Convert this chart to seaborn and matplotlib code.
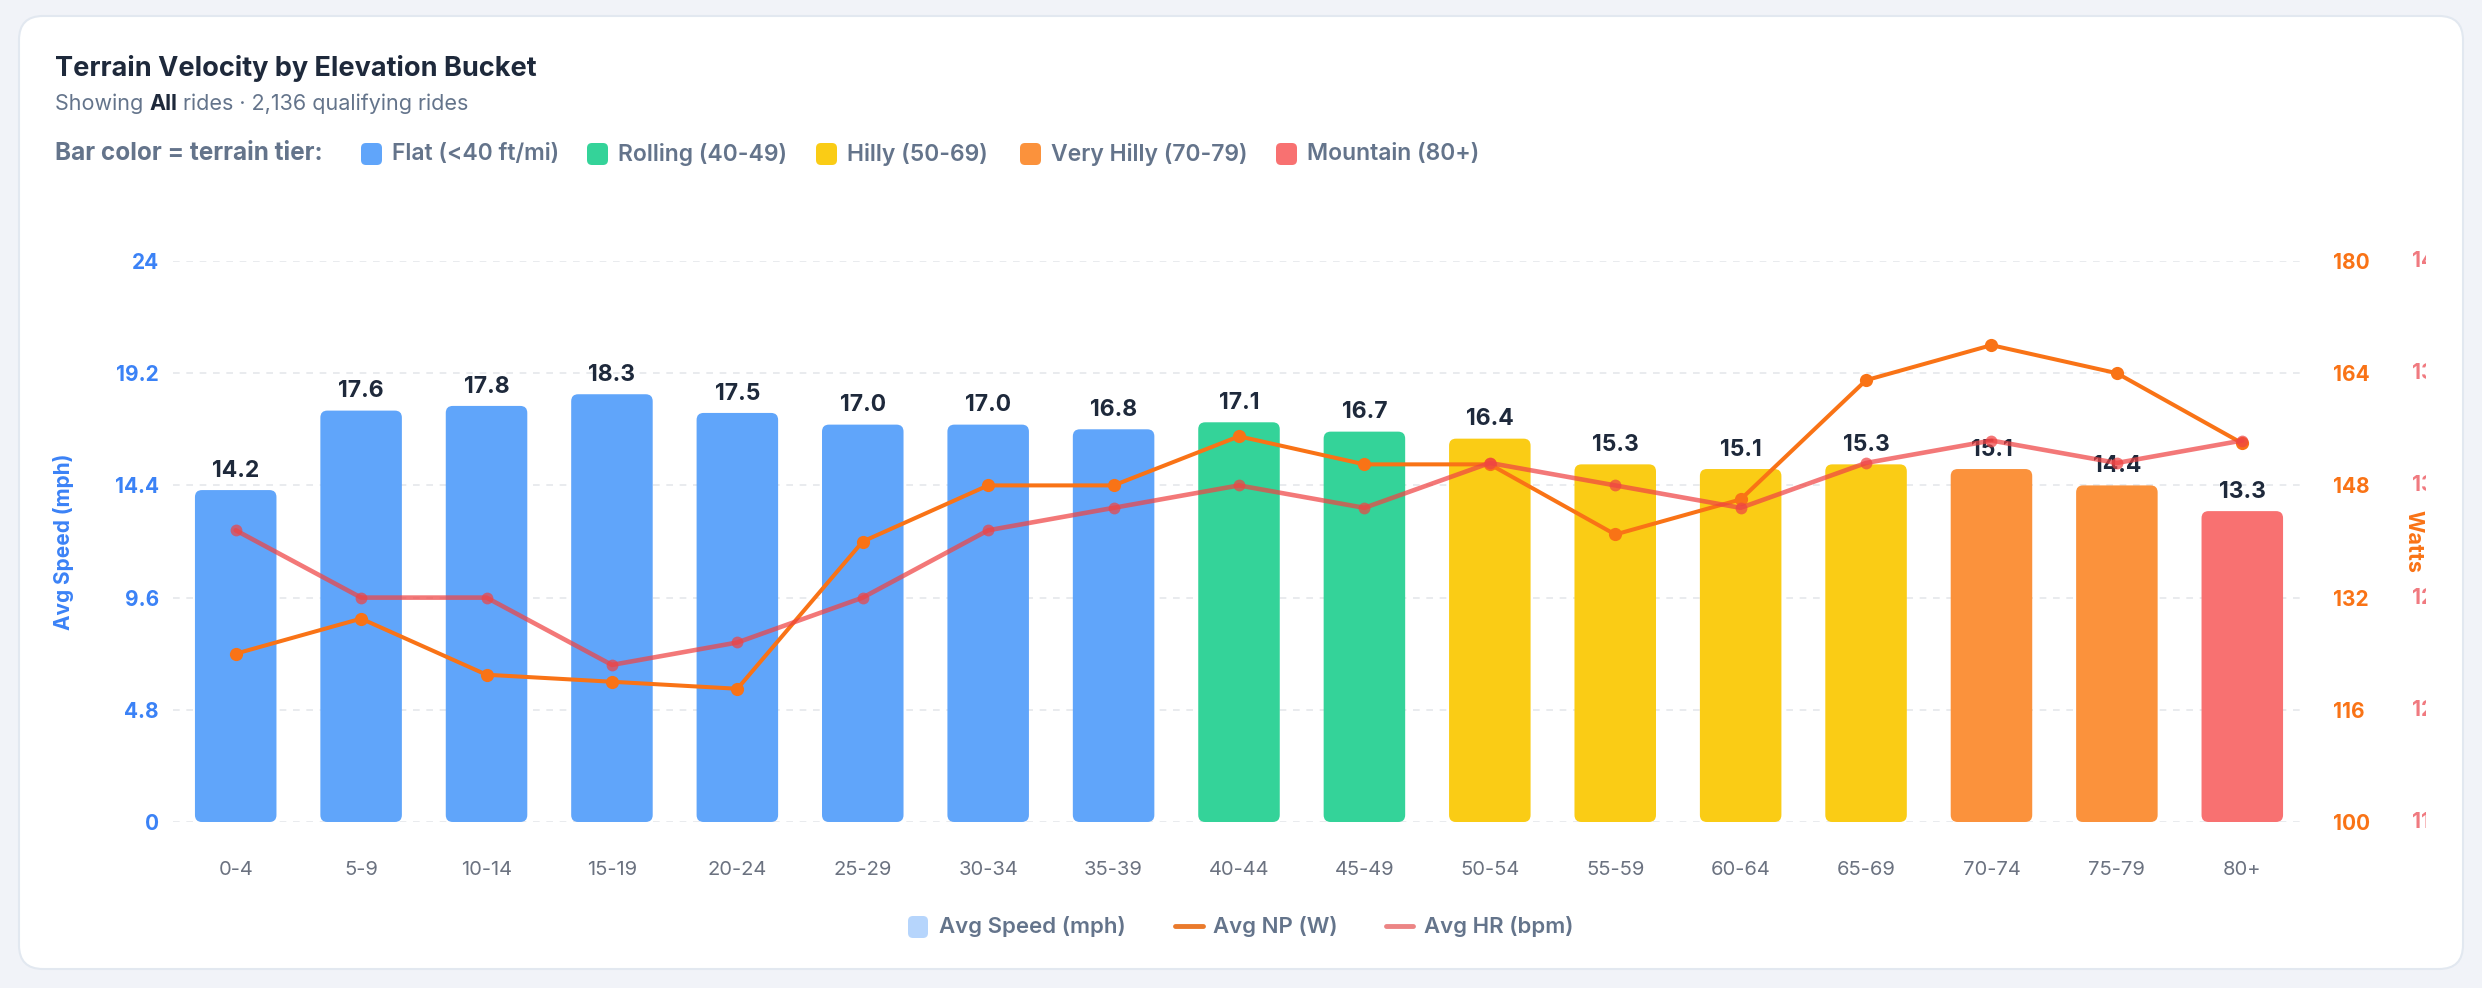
import numpy as np
import pandas as pd
import matplotlib
matplotlib.use("Agg")
import matplotlib.pyplot as plt
import seaborn as sns
from matplotlib.patches import FancyBboxPatch
from matplotlib.lines import Line2D
from matplotlib.transforms import Bbox

# ---------------- data ----------------
buckets = ["0-4", "5-9", "10-14", "15-19", "20-24", "25-29", "30-34", "35-39",
           "40-44", "45-49", "50-54", "55-59", "60-64", "65-69", "70-74", "75-79", "80+"]
avg_speed = [14.2, 17.6, 17.8, 18.3, 17.5, 17.0, 17.0, 16.8, 17.1, 16.7,
             16.4, 15.3, 15.1, 15.3, 15.1, 14.4, 13.3]
avg_np = [124, 129, 121, 120, 119, 140, 148, 148, 155, 151,
          151, 141, 146, 163, 168, 164, 154]
avg_hr = [128, 125, 125, 122, 123, 125, 128, 129, 130, 129,
          131, 130, 129, 131, 132, 131, 132]
tiers = ["Flat", "Flat", "Flat", "Flat", "Flat", "Flat", "Flat", "Flat",
         "Rolling", "Rolling", "Hilly", "Hilly", "Hilly", "Hilly",
         "Very Hilly", "Very Hilly", "Mountain"]
tier_names = ["Flat", "Rolling", "Hilly", "Very Hilly", "Mountain"]
tier_labels = ["Flat (<40 ft/mi)", "Rolling (40-49)", "Hilly (50-69)",
               "Very Hilly (70-79)", "Mountain (80+)"]
tier_colors = {"Flat": "#60a5fa", "Rolling": "#34d399", "Hilly": "#facc15",
               "Very Hilly": "#fb923c", "Mountain": "#f87171"}
speed_ticks = [0, 4.8, 9.6, 14.4, 19.2, 24]
speed_tick_labels = ["0", "4.8", "9.6", "14.4", "19.2", "24"]
watt_ticks = [100, 116, 132, 148, 164, 180]
hr_ticks = [115, 120, 125, 130, 135, 140]

df = pd.DataFrame({"bucket": buckets, "speed": avg_speed, "np": avg_np,
                   "hr": avg_hr, "tier": tiers})

# ---------------- style ----------------
sns.set_theme(style="white")
plt.rcParams["font.family"] = ["Inter", "DejaVu Sans"]

W, H = 2482, 988
fig = plt.figure(figsize=(W / 100, H / 100), dpi=100)
fig.patch.set_facecolor("#f1f3f8")

def fx(px):
    return px / W

def fy(py):
    return 1 - py / H

# card
card = FancyBboxPatch((19, H - 969), 2444, 953,
                      boxstyle="round,pad=0,rounding_size=24",
                      transform=None, fc="white", ec="#e2e8f0", lw=1.5, zorder=0)
fig.add_artist(card)

SLATE = "#64748b"
DARK = "#1e293b"
BLUE = "#3b82f6"
ORANGE = "#f97316"
HRC = "#f07a80"

# ---------------- axes ----------------
L, R, T, B = 173, 2305, 261, 822
ax = fig.add_axes([fx(L), fy(B), (R - L) / W, (B - T) / H])
ax.set_facecolor("none")

palette = [tier_colors[t] for t in tiers]
sns.barplot(data=df, x="bucket", y="speed", hue="bucket", palette=palette,
            legend=False, ax=ax, width=0.65, saturation=1, zorder=2)
ax.set_ylim(0, 24)
ax.set_xlim(-0.5, len(buckets) - 0.5)

# value labels
for c in ax.containers:
    ax.bar_label(c, fmt="{:.1f}", padding=6, fontsize=16.5, fontweight="bold",
                 color=DARK, zorder=3)

# rounded bars
px_per_x = (R - L) / len(buckets)
px_per_y = (B - T) / 24
rx = 7 / px_per_x
ry = 7 / px_per_y
for p in list(ax.patches):
    x0, y0 = p.get_x(), p.get_y()
    w, h = p.get_width(), p.get_height()
    fb = FancyBboxPatch((x0, y0), w, h,
                        boxstyle=f"round,pad=0,rounding_size={rx}",
                        mutation_aspect=ry / rx, fc=p.get_facecolor(),
                        ec="none", zorder=2)
    ax.add_patch(fb)
    p.set_visible(False)

ax.set_yticks(speed_ticks)
ax.set_yticklabels(speed_tick_labels)
ax.tick_params(axis="y", length=0, pad=10, labelsize=15, labelcolor=BLUE)
for t in ax.get_yticklabels():
    t.set_fontweight("bold")
ax.tick_params(axis="x", length=0, pad=28, labelsize=14.5, labelcolor="#6b7280")
ax.set_xlabel("")
ax.set_ylabel("Avg Speed (mph)", color=BLUE, fontsize=15, fontweight="bold")
ax.yaxis.set_label_coords((74 - L) / (R - L), 0.5)
ax.yaxis.grid(True, color="#e5e7eb", linestyle=(0, (4, 4)), lw=1.2)
ax.set_axisbelow(True)
for s in ax.spines.values():
    s.set_visible(False)

xpos = np.arange(len(buckets))

# Watts axis
ax2 = ax.twinx()
ax2.set_position(ax.get_position())
sns.lineplot(x=xpos, y=df["np"], ax=ax2, color=ORANGE, lw=2.9, marker="o",
             markersize=9.5, markeredgewidth=0, zorder=4)
ax2.set_ylim(100, 180)
ax2.set_yticks(watt_ticks)
ax2.tick_params(axis="y", length=0, pad=20, labelsize=15, labelcolor=ORANGE)
for t in ax2.get_yticklabels():
    t.set_fontweight("bold")
ax2.set_ylabel("Watts", color=ORANGE, fontsize=15.5, fontweight="bold",
               rotation=270, va="center")
ax2.yaxis.set_label_coords((2413 - L) / (R - L), 0.5)
for s in ax2.spines.values():
    s.set_visible(False)
ax2.grid(False)

# HR axis (labels clipped at the chart canvas edge, as in the original)
ax3 = ax.twinx()
ax3.set_position(ax.get_position())
sns.lineplot(x=xpos, y=df["hr"], ax=ax3, color="#ef4444", alpha=0.72, lw=3.3,
             marker="o", markersize=8.5, markeredgewidth=0, zorder=5)
ax3.set_ylim(115, 140)
ax3.set_yticks(hr_ticks)
ax3.tick_params(axis="y", length=0, labelright=False, labelleft=False)
ax3.set_ylabel("")
clip = Bbox([[0, 0], [2426, H]])
hr_x = (2412 - L) / (R - L)
for v in hr_ticks:
    t = fig.text(hr_x, v, str(v), transform=ax3.get_yaxis_transform(),
                 fontsize=15, fontweight="bold", color=HRC, va="center", ha="left")
    t.set_clip_on(True)
    t.set_clip_box(clip)
for s in ax3.spines.values():
    s.set_visible(False)
ax3.grid(False)
for a in (ax2, ax3):
    a.set_xlabel("")
    a.set_facecolor("none")
    a.set_xlim(-0.5, len(buckets) - 0.5)

# ---------------- header ----------------
fig.text(fx(55), fy(68), "Terrain Velocity by Elevation Bucket", fontsize=19.5,
         fontweight="bold", color=DARK, va="center", ha="left")
t1 = fig.text(fx(55), fy(114), "Showing ", fontsize=15.5, color=SLATE,
              va="bottom", ha="left")
t2 = ax.annotate("All", xy=(1, 0), xycoords=t1, fontsize=15.5, color=DARK,
                 fontweight="bold", va="bottom", ha="left", annotation_clip=False)
ax.annotate(" rides · 2,136 qualifying rides", xy=(1, 0), xycoords=t2,
            fontsize=15.5, color=SLATE, va="bottom", ha="left",
            annotation_clip=False)

fig.text(fx(55), fy(154), "Bar color = terrain tier:", fontsize=17.5,
         fontweight="bold", color=SLATE, va="center", ha="left")
sq_x = [361, 587, 816, 1020, 1276]
for sx, name, lab in zip(sq_x, tier_names, tier_labels):
    sq = FancyBboxPatch((sx, H - 165), 21, 22,
                        boxstyle="round,pad=0,rounding_size=5", transform=None,
                        fc=tier_colors[name], ec="none")
    fig.add_artist(sq)
    fig.text(fx(sx + 31), fy(154), lab, fontsize=16.5, fontweight="semibold",
             color=SLATE, va="center", ha="left")

# ---------------- bottom legend ----------------
leg_y = 926
sp = FancyBboxPatch((908, H - 938), 20, 22, boxstyle="round,pad=0,rounding_size=5",
                    transform=None, fc="#b6d5fc", ec="none")
fig.add_artist(sp)
fig.text(fx(939), fy(leg_y), "Avg Speed (mph)", fontsize=16, fontweight="semibold",
         color=SLATE, va="center", ha="left")
fig.add_artist(Line2D([fx(1175), fx(1203)], [fy(leg_y), fy(leg_y)],
                      transform=fig.transFigure, color="#ea7a2c", lw=3.5,
                      solid_capstyle="round"))
fig.text(fx(1213), fy(leg_y), "Avg NP (W)", fontsize=16, fontweight="semibold",
         color=SLATE, va="center", ha="left")
fig.add_artist(Line2D([fx(1386), fx(1413)], [fy(leg_y), fy(leg_y)],
                      transform=fig.transFigure, color="#ec8585", lw=3.5,
                      solid_capstyle="round"))
fig.text(fx(1424), fy(leg_y), "Avg HR (bpm)", fontsize=16, fontweight="semibold",
         color=SLATE, va="center", ha="left")

fig.savefig("out.png", dpi=100, facecolor=fig.get_facecolor())
